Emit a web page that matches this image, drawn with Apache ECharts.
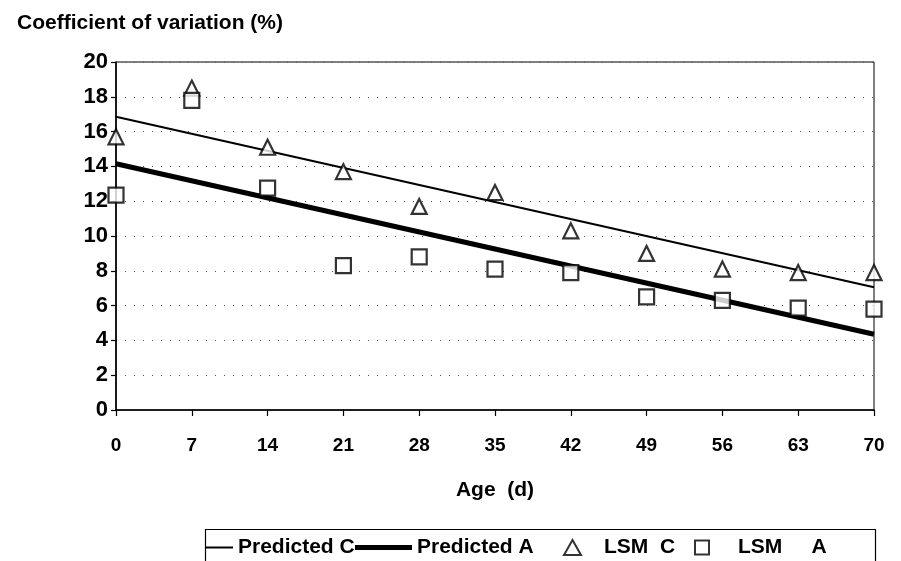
<!DOCTYPE html>
<html>
<head>
<meta charset="utf-8">
<script src="https://cdn.jsdelivr.net/npm/echarts@6/dist/echarts.min.js"></script>
<style>html,body{margin:0;padding:0;background:#fff;}#c{width:901px;height:561px;}</style>
</head>
<body>
<div id="c"></div>
<script>
var ages = [0, 7, 14, 21, 28, 35, 42, 49, 56, 63, 70];
var lsmC = [15.7, 18.5, 15.1, 13.7, 11.7, 12.5, 10.3, 9.0, 8.1, 7.9, 7.9];
var lsmA = [12.35, 17.8, 12.75, 8.3, 8.8, 8.1, 7.9, 6.5, 6.3, 5.85, 5.8];
var predCEnds = [[0, 16.85], [70, 7.05]];
var predAEnds = [[0, 14.15], [70, 4.35]];
var yTicks = [0, 2, 4, 6, 8, 10, 12, 14, 16, 18, 20];
var seriesNames = ['Predicted C', 'Predicted A', 'LSM  C', 'LSM     A'];

var FONT = "'Liberation Sans', Arial, sans-serif";
function pairs(xs, ys) { return xs.map(function (x, i) { return [x, ys[i]]; }); }

var chart = echarts.init(document.getElementById('c'), null, {renderer: 'canvas'});
function lt(padLeft) {
  return {fontFamily: FONT, fontWeight: 'bold', fontSize: 21, color: '#000', padding: [0, 0, 0, padLeft || 0]};
}
chart.setOption({
  animation: false,
  backgroundColor: '#fff',
  title: {
    text: 'Coefficient of variation (%)', left: 12, top: 8,
    textStyle: {fontFamily: FONT, fontWeight: 'bold', fontSize: 21, color: '#000'}
  },
  grid: {left: 116, right: 27, top: 62, bottom: 151, show: true, borderColor: '#000', borderWidth: 1, backgroundColor: 'transparent'},
  xAxis: {
    type: 'value', min: 0, max: 70, interval: 7,
    name: 'Age  (d)', nameLocation: 'middle', nameGap: 70,
    nameTextStyle: {fontFamily: FONT, fontWeight: 'bold', fontSize: 21, color: '#000'},
    axisLine: {onZero: false, lineStyle: {color: '#000', width: 1.6}},
    axisTick: {show: true, length: 6, lineStyle: {color: '#000', width: 1.2}},
    axisLabel: {margin: 26, fontFamily: FONT, fontWeight: 'bold', fontSize: 19, color: '#000'},
    splitLine: {show: false}
  },
  yAxis: {
    type: 'value', min: yTicks[0], max: yTicks[yTicks.length - 1], interval: yTicks[1] - yTicks[0],
    axisLine: {show: true, lineStyle: {color: '#000', width: 1.6}},
    axisTick: {show: true, length: 5, lineStyle: {color: '#000', width: 1.2}},
    axisLabel: {margin: 8, fontFamily: FONT, fontWeight: 'bold', fontSize: 22, color: '#000'},
    splitLine: {show: true, lineStyle: {color: '#555', width: 1, type: [1, 8]}}
  },
  legend: [
    {data: [{name: seriesNames[0], icon: 'rect'}], left: 206, top: 537, itemWidth: 27, itemHeight: 2, textStyle: lt(0), padding: 0},
    {data: [{name: seriesNames[1], icon: 'rect'}], left: 355, top: 537, itemWidth: 57, itemHeight: 5, textStyle: lt(0), padding: 0},
    {data: [seriesNames[2]], left: 563, top: 537, itemWidth: 17, itemHeight: 15, textStyle: lt(18), padding: 0},
    {data: [seriesNames[3]], left: 694, top: 537, itemWidth: 14, itemHeight: 14, textStyle: lt(24), padding: 0}
  ],
  graphic: [{
    type: 'rect', left: 203, top: 527, z: 100,
    shape: {x: 0, y: 0, width: 670, height: 60},
    style: {fill: 'none', stroke: '#000', lineWidth: 1.2}
  }],
  series: [
    {
      name: seriesNames[0], type: 'line', data: predCEnds, symbol: 'none',
      lineStyle: {color: '#000', width: 2}, itemStyle: {color: '#000'}, z: 3
    },
    {
      name: seriesNames[1], type: 'line', data: predAEnds, symbol: 'none',
      lineStyle: {color: '#000', width: 5}, itemStyle: {color: '#000'}, z: 3
    },
    {
      name: seriesNames[2], type: 'scatter', data: pairs(ages, lsmC), symbol: 'triangle', symbolSize: [15, 15],
      itemStyle: {color: '#fff', borderColor: '#000', borderWidth: 2.2}, z: 4
    },
    {
      name: seriesNames[3], type: 'scatter', data: pairs(ages, lsmA), symbol: 'rect', symbolSize: [15, 15],
      itemStyle: {color: '#fff', borderColor: '#000', borderWidth: 2.2}, z: 4
    }
  ]
});
</script>
</body>
</html>
